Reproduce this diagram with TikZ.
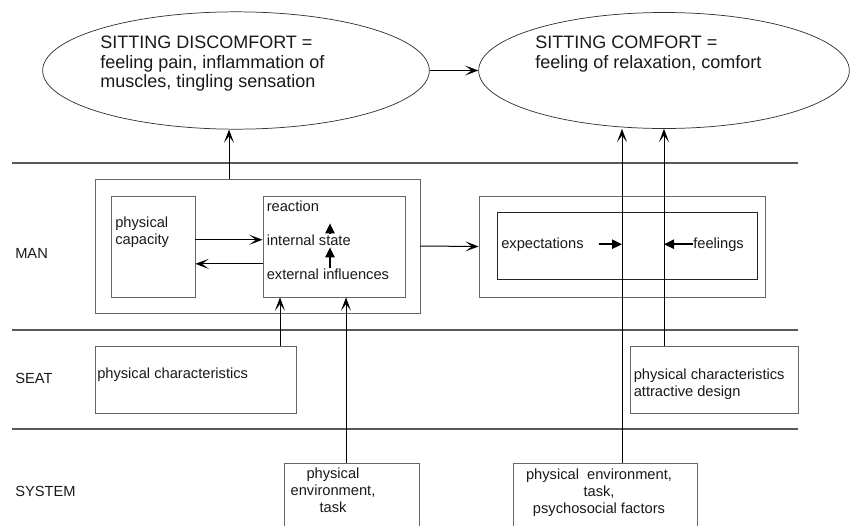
\documentclass[tikz,border=0pt]{standalone}
\usepackage{fontspec}
\setmainfont{Liberation Sans}
\usetikzlibrary{shapes.geometric,arrows.meta}

\begin{document}
\begin{tikzpicture}[x=0.75pt, y=-0.75pt,
	lane/.style={draw=black!65, line width=0.8pt},
	box/.style={draw=black!60, line width=0.6pt, rectangle, inner sep=0pt},
	oval/.style={draw=black!80, line width=0.55pt, ellipse, inner sep=0pt},
	txt/.style={inner sep=0pt, font=\fontsize{11}{12.75}\selectfont, text=black!90},
	big/.style={inner sep=0pt, font=\fontsize{13.5}{14.4}\selectfont, align=left, text=black!90},
	arr/.style={-{Stealth[length=10pt, width=7.5pt, inset=5pt]}, line width=0.75pt},
	tri/.style={-{Triangle[length=7.5pt, width=7pt]}, line width=1.1pt}]
	\useasboundingbox (0,0) rectangle (852,525);
	\clip (0,0) rectangle (852,525);

	\node[oval, minimum width=290pt, minimum height=88pt] (disc) at (236,70.5) {};
	\node[oval, minimum width=278pt, minimum height=87pt] (comf) at (664,70.5) {};
	\node[big, anchor=north west] (discTxt) at (100,36) {SITTING DISCOMFORT =\\feeling pain, inflammation of\\muscles, tingling sensation};
	\node[big, anchor=north west] (comfTxt) at (535,36) {SITTING COMFORT =\\feeling of relaxation, comfort};

	\foreach \y in {163,330,429}
		\draw[lane] (12,\y) -- (798,\y);
	\node[txt, anchor=base west] (man) at (15,258) {MAN};
	\node[txt, anchor=base west] (seat) at (15,383) {SEAT};
	\node[txt, anchor=base west] (system) at (15,496) {SYSTEM};

	\node[box, minimum width=243.75pt, minimum height=100.5pt] (outerL) at (257.5,246) {};
	\node[box, minimum width=63pt, minimum height=75.75pt] (capBox) at (153,246.5) {};
	\node[box, minimum width=106.5pt, minimum height=75.75pt] (stateBox) at (334,246.5) {};
	\node[box, minimum width=214.5pt, minimum height=75.75pt] (outerR) at (622,246.5) {};
	\node[box, draw=black!85, minimum width=195pt, minimum height=50.25pt] (innerR) at (627,245.5) {};
	\node[box, minimum width=150.75pt, minimum height=50.25pt] (seatL) at (195.5,379.5) {};
	\node[box, minimum width=126pt, minimum height=50.25pt] (seatR) at (714,379.5) {};
	\node[box, minimum width=101.25pt, minimum height=52.5pt] (sysL) at (351.5,498) {};
	\node[box, minimum width=138pt, minimum height=52.5pt] (sysR) at (605,498) {};

	\node[txt, anchor=north west, align=left] (cap) at (115,217) {physical\\capacity};
	\node[txt, anchor=base west] (react) at (266.5,211) {reaction};
	\node[txt, anchor=base west] (intState) at (266.5,245) {internal state};
	\node[txt, anchor=base west] (extInf) at (266.5,279) {external influences};
	\node[txt, anchor=base west] (expect) at (501,248) {expectations};
	\node[txt, anchor=base west] (feel) at (693,248) {feelings};
	\node[txt, anchor=base west] (seatLTxt) at (97,378) {physical characteristics};
	\node[txt, anchor=north west, align=left] (seatRTxt) at (633.5,369) {physical characteristics\\attractive design};
	\node[txt, anchor=north, align=center] (sysLTxt) at (333,468) {physical\\environment,\\task};
	\node[txt, anchor=north, align=center] (sysRTxt) at (599,468.5) {physical\ \ environment,\\task,\\psychosocial factors};

	\coordinate (upDisc) at (229,0);
	\coordinate (stackX) at (330,0);
	\coordinate (inSeat) at (280,0);
	\coordinate (inSys) at (346,0);
	\coordinate (toComfA) at (622,0);
	\coordinate (toComfB) at (664,0);

	\draw[arr] (upDisc |- outerL.north) -- (upDisc |- disc.south);
	\draw[arr] (disc.east) -- (comf.west);
	\draw[arr] (capBox.east |- intState.west) -- (stateBox.west |- intState.west);
	\draw[arr] ([yshift=-13pt]stateBox.west) -- ([yshift=-13pt]capBox.east);
	\draw[tri, shorten >=1.5pt] (stackX |- extInf.north) -- (stackX |- intState.south);
	\draw[tri, shorten >=9pt] (stackX |- intState.north) -- (stackX |- react.south);
	\draw[arr] (outerL.east) -- (outerR.west);
	\draw[tri] ([xshift=11pt]expect.east) -- (toComfA |- expect.east);
	\draw[tri] (feel.west) -- (toComfB |- feel.west);
	\draw[arr] (inSeat |- seatL.north) -- (inSeat |- stateBox.south);
	\draw[arr] (inSys |- sysL.north) -- (inSys |- stateBox.south);
	\draw[arr] (toComfA |- sysR.north) -- (toComfA |- comf.south);
	\draw[arr] (toComfB |- seatR.north) -- (toComfB |- comf.south);
\end{tikzpicture}
\end{document}
